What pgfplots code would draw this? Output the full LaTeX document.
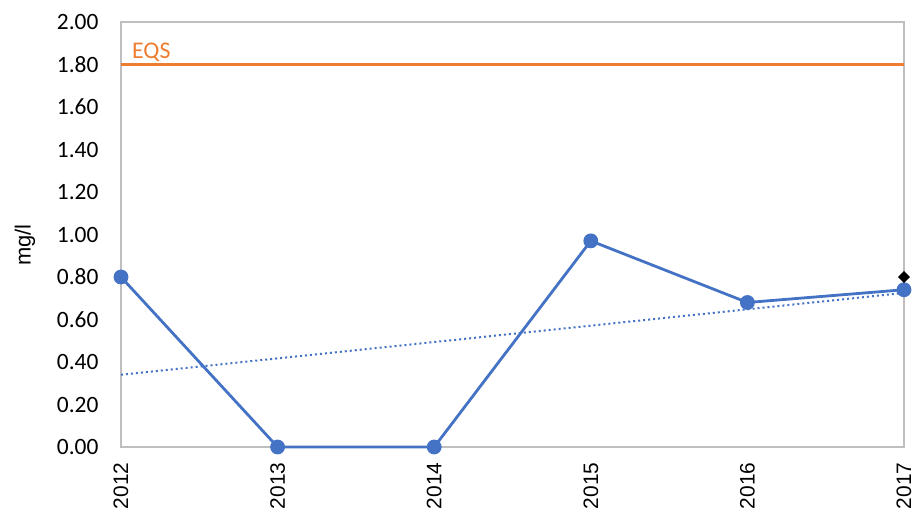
\documentclass[border=0pt]{standalone}
\usepackage{pgfplots}
\pgfplotsset{compat=1.18}
\usepackage{fontspec}
\setmainfont{Carlito}
\newfontfamily\arial{Liberation Sans}
\definecolor{xblue}{HTML}{4472C4}
\definecolor{xorange}{HTML}{ED7D31}
\definecolor{xgray}{HTML}{BFBFBF}
\begin{document}
\begin{tikzpicture}
\begin{axis}[
  at={(0,0)}, anchor=south west,
  scale only axis,
  width=783bp, height=425bp,
  xmin=2012, xmax=2017,
  ymin=0, ymax=2,
  xtick={2012,2013,2014,2015,2016,2017},
  xticklabels={2012,2013,2014,2015,2016,2017},
  ytick={0,0.2,0.4,0.6,0.8,1.0,1.2,1.4,1.6,1.8,2.0},
  yticklabel style={/pgf/number format/fixed, /pgf/number format/fixed zerofill, /pgf/number format/precision=2, /pgf/number format/assume math mode=true, font=\fontsize{23.5}{26}\selectfont, xshift=-19bp},
  xticklabel style={rotate=90, anchor=east, font=\arial\fontsize{21}{24}\selectfont, xshift=-12bp},
  major tick length=0pt,
  axis line style={xgray, line width=1.5bp},
  clip=false,
  ylabel={mg/l},
  ylabel style={at={(rel axis cs:0,0.475)}, anchor=center, yshift=96bp, font=\arial\fontsize{22}{24}\selectfont},
]
\addplot[xorange, line width=2.5bp] coordinates {(2012,1.8) (2017,1.8)};
\addplot[xblue, line width=2bp, dotted, dash pattern=on 2bp off 3bp] coordinates {(2012,0.34) (2017,0.725)};
\addplot[xblue, line width=2.8bp, mark=*, mark size=6bp, mark options={solid}] coordinates {
 (2012,0.80) (2013,0) (2014,0) (2015,0.97) (2016,0.68) (2017,0.74)};
\addplot[only marks, black, mark=square*, mark size=3.9bp, mark options={rotate=45}] coordinates {(2017,0.80)};
\node[anchor=base west, text=xorange, font=\fontsize{24}{26}\selectfont, inner sep=0pt] at (axis cs:2012.07,1.826) {EQS};
\end{axis}
\pgfresetboundingbox
\path (-121bp,-63bp) rectangle (796bp,447bp);
\end{tikzpicture}
\end{document}
